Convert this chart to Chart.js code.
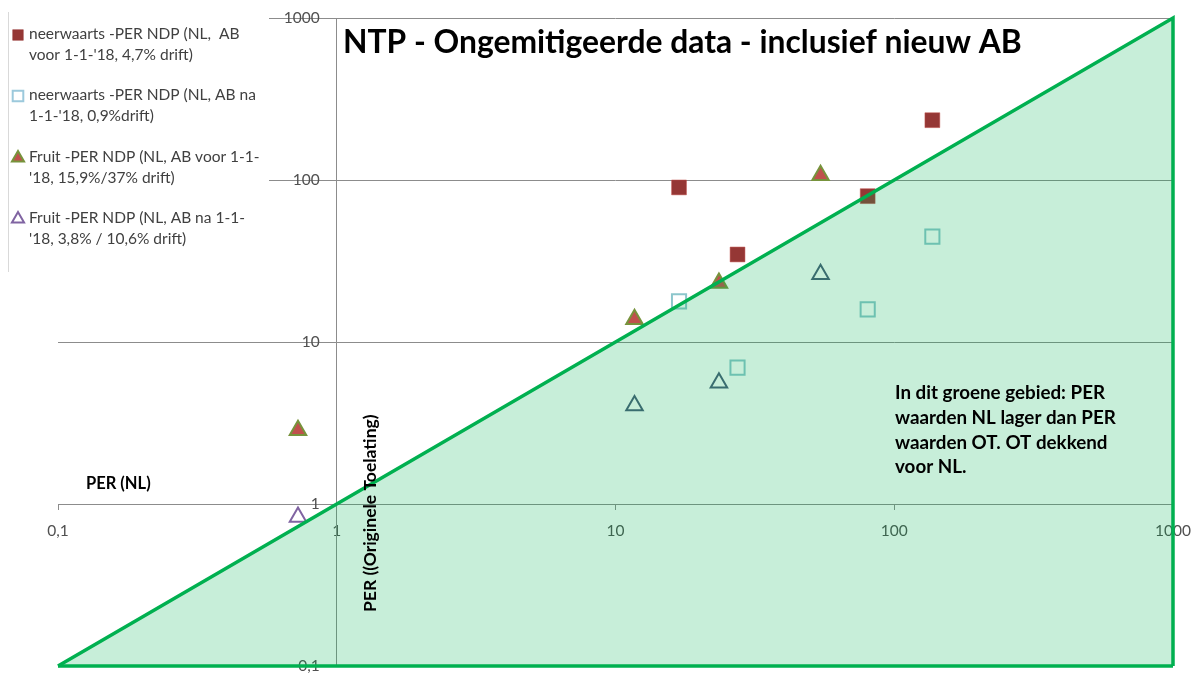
<!DOCTYPE html>
<html lang="nl">
<head>
<meta charset="utf-8">
<title>NTP - Ongemitigeerde data - inclusief nieuw AB</title>
<script src="https://cdn.jsdelivr.net/npm/chart.js@4/dist/chart.umd.min.js"></script>
<style>
  html, body { margin: 0; padding: 0; background: #ffffff; }
  #wrap { width: 1200px; height: 678px; position: relative; }
</style>
</head>
<body>
<div id="wrap"><canvas id="c" width="1200" height="678"></canvas></div>
<script>
// Decade ticks shown on both logarithmic axes
const tickValues = [0.1, 1, 10, 100, 1000];

// Zone where PER (NL) is below PER (original authorisation): triangle under the 1:1 line
const zoneX = [0.1, 1000, 1000];
const zoneY = [0.1, 1000, 0.1];
const zoneBaseX = [0.1, 1000];
const zoneBaseY = [0.1, 0.1];

// neerwaarts - PER NDP (NL, AB voor 1-1-'18)
const neerVoorX = [16.9, 27.4, 80.3, 137];
const neerVoorY = [90, 34.7, 79.5, 234];

// neerwaarts - PER NDP (NL, AB na 1-1-'18)
const neerNaX = [16.9, 27.4, 80.3, 137];
const neerNaY = [17.8, 6.95, 15.9, 44.7];

// Fruit - PER NDP (NL, AB voor 1-1-'18)
const fruitVoorX = [0.726, 11.7, 23.5, 54.4];
const fruitVoorY = [2.85, 13.8, 23.1, 107];

// Fruit - PER NDP (NL, AB na 1-1-'18)
const fruitNaX = [0.726, 11.7, 23.5, 54.4];
const fruitNaY = [0.83, 4.05, 5.6, 26.2];

const seriesLabels = [
  ["neerwaarts -PER NDP (NL,  AB", "voor 1-1-'18, 4,7% drift)"],
  ["neerwaarts -PER NDP (NL, AB na", "1-1-'18, 0,9%drift)"],
  ["Fruit -PER NDP (NL, AB voor 1-1-", "'18, 15,9%/37% drift)"],
  ["Fruit -PER NDP (NL, AB na 1-1-", "'18, 3,8% / 10,6% drift)"]
];

const titleText = "NTP - Ongemitigeerde data - inclusief nieuw AB";
const xAxisTitle = "PER (NL)";
const yAxisTitle = "PER ((Originele Toelating)";
const zoneNote = [
  "In dit groene gebied: PER",
  "waarden NL lager dan PER",
  "waarden OT. OT dekkend",
  "voor NL."
];

const FONT = "Lato, 'Open Sans', sans-serif";
const GRID = "#8c8c8c";
const TICK_COLOR = "#505050";
const TICK_FONT_SIZE = 15.5;
const ZONE_GREEN = "#00b050";

const toPoints = (xs, ys) => xs.map((x, i) => ({ x, y: ys[i] }));
const decimalComma = v => String(v).replace(".", ",");
const fixedTicks = scale => { scale.ticks = tickValues.map(v => ({ value: v })); };

// The axes cross at (1, 1); place their tick labels at a fixed distance from the crossing lines
const crossedAxisLabels = {
  id: "crossedAxisLabels",
  beforeDraw(chart) {
    const xs = chart.scales.x, ys = chart.scales.y;
    const axisY = ys.getPixelForValue(1);
    const axisX = xs.getPixelForValue(1);
    xs.getLabelItems().forEach(item => {
      if (item._placed) return;
      item.textOffset = 0;
      item.options.translation[1] = axisY + 27;
      item._placed = true;
    });
    ys.getLabelItems().forEach(item => {
      if (item._placed) return;
      item.options.textAlign = "right";
      item.options.translation[0] = axisX - 17;
      item._placed = true;
    });
  }
};

// Legend, title and annotations drawn on top of the plot
const annotations = {
  id: "annotations",
  afterDraw(chart) {
    const ctx = chart.ctx;
    ctx.save();

    // legend panel
    ctx.fillStyle = "#ffffff";
    ctx.fillRect(9, 6, 260, 268);
    ctx.strokeStyle = "#d9d9d9";
    ctx.lineWidth = 1;
    ctx.beginPath();
    ctx.moveTo(8.5, 12);
    ctx.lineTo(8.5, 272);
    ctx.stroke();

    const legendTop = [34, 95, 157, 218];
    ctx.font = "15.5px " + FONT;
    ctx.textBaseline = "middle";
    ctx.textAlign = "left";
    chart.data.datasets.filter(ds => ds.legendFill).forEach((ds, i) => {
      const y0 = legendTop[i];
      ctx.fillStyle = ds.legendFill;
      ctx.strokeStyle = ds.legendStroke;
      ctx.lineWidth = ds.pointBorderWidth;
      Chart.helpers.drawPoint(ctx, {
        pointStyle: ds.pointStyle,
        radius: ds.pointStyle === "rect" ? 7.5 : 7,
        borderWidth: ds.pointBorderWidth,
        rotation: 0
      }, 18, y0 + 1);
      ctx.fillStyle = "#404040";
      seriesLabels[i].forEach((line, j) => ctx.fillText(line, 29, y0 + j * 20.5));
    });

    // chart title
    ctx.fillStyle = "#000000";
    ctx.font = "bold 31.8px " + FONT;
    ctx.textBaseline = "alphabetic";
    ctx.fillText(titleText, 343, 53);

    // axis titles
    ctx.font = "bold 16.5px " + FONT;
    ctx.textBaseline = "middle";
    ctx.fillText(xAxisTitle, 86, 484);

    ctx.save();
    ctx.translate(370, 612);
    ctx.rotate(-Math.PI / 2);
    ctx.font = "bold 17.5px " + FONT;
    ctx.textAlign = "left";
    ctx.fillText(yAxisTitle, 0, 0);
    ctx.restore();

    // note inside the green zone
    ctx.font = "bold 18.8px " + FONT;
    ctx.textBaseline = "alphabetic";
    zoneNote.forEach((line, j) => ctx.fillText(line, 895, 399 + j * 24.8));

    ctx.restore();
  }
};

new Chart(document.getElementById("c"), {
  type: "scatter",
  data: {
    datasets: [
      {
        type: "line",
        label: "zone",
        data: toPoints(zoneX, zoneY),
        tension: 0,
        fill: { value: 0.1 },
        backgroundColor: "rgba(0,176,80,0.22)",
        borderColor: ZONE_GREEN,
        borderWidth: 3.5,
        pointRadius: 0,
        clip: false
      },
      {
        type: "line",
        label: "zone base",
        data: toPoints(zoneBaseX, zoneBaseY),
        fill: false,
        borderColor: ZONE_GREEN,
        borderWidth: 3.5,
        pointRadius: 0,
        clip: false
      },
      {
        label: seriesLabels[0].join(" "),
        data: toPoints(neerVoorX, neerVoorY),
        pointStyle: "rect",
        pointRadius: 10.5,
        pointBackgroundColor: "#953735",
        pointBorderColor: "#c0504d",
        pointBorderWidth: 0.5,
        legendFill: "#953735",
        legendStroke: "#953735"
      },
      {
        label: seriesLabels[1].join(" "),
        data: toPoints(neerNaX, neerNaY),
        pointStyle: "rect",
        pointRadius: 10,
        pointBackgroundColor: "rgba(0,0,0,0)",
        pointBorderColor: "#8cc6cc",
        pointBorderWidth: 2,
        legendFill: "rgba(0,0,0,0)",
        legendStroke: "#9cc9dc"
      },
      {
        label: seriesLabels[2].join(" "),
        data: toPoints(fruitVoorX, fruitVoorY),
        pointStyle: "triangle",
        pointRadius: 9.5,
        pointBackgroundColor: "#c0504d",
        pointBorderColor: "#77933c",
        pointBorderWidth: 2,
        legendFill: "#c0504d",
        legendStroke: "#77933c"
      },
      {
        label: seriesLabels[3].join(" "),
        data: toPoints(fruitNaX, fruitNaY),
        pointStyle: "triangle",
        pointRadius: 9.5,
        pointBackgroundColor: "rgba(0,0,0,0)",
        pointBorderColor: ["#8064a2", "#4a5a78", "#4a5a78", "#4a5a78"],
        pointBorderWidth: 2,
        legendFill: "rgba(0,0,0,0)",
        legendStroke: "#8064a2"
      }
    ]
  },
  options: {
    responsive: false,
    animation: false,
    events: [],
    layout: { padding: { left: 58, top: 18, right: 27, bottom: 10 } },
    plugins: {
      legend: { display: false },
      tooltip: { enabled: false }
    },
    scales: {
      x: {
        type: "logarithmic",
        min: 0.1,
        max: 1000,
        position: { y: 1 },
        afterBuildTicks: fixedTicks,
        grid: { drawOnChartArea: false, drawTicks: true, tickLength: 5, color: GRID },
        border: { color: GRID, width: 1 },
        ticks: {
          padding: 0,
          color: TICK_COLOR,
          font: { family: FONT, size: TICK_FONT_SIZE },
          maxRotation: 0,
          autoSkip: false,
          callback: v => decimalComma(v)
        }
      },
      y: {
        type: "logarithmic",
        min: 0.1,
        max: 1000,
        position: { x: 1 },
        afterBuildTicks: fixedTicks,
        grid: { drawOnChartArea: true, drawTicks: false, color: GRID },
        border: { color: GRID, width: 1 },
        ticks: {
          padding: 0,
          color: TICK_COLOR,
          font: { family: FONT, size: TICK_FONT_SIZE },
          autoSkip: false,
          callback: v => decimalComma(v)
        }
      }
    }
  },
  plugins: [crossedAxisLabels, annotations]
});
</script>
</body>
</html>
